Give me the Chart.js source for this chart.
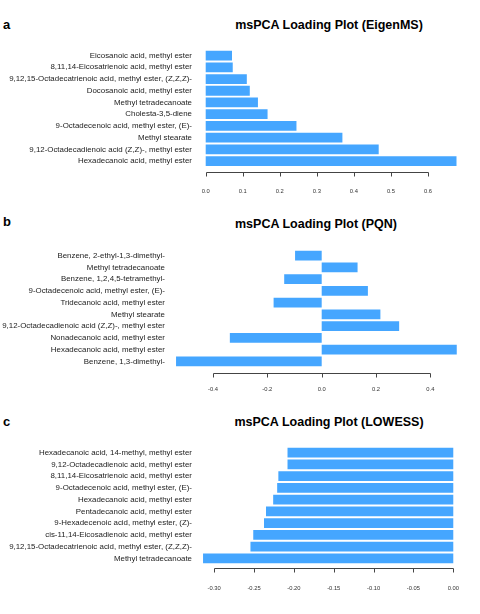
<!DOCTYPE html>
<html>
<head>
<meta charset="utf-8">
<script src="https://cdn.jsdelivr.net/npm/chart.js@4.4.1/dist/chart.umd.min.js"></script>
<style>
  body { margin: 0; background: #fff; width: 480px; height: 614px; position: relative; overflow: hidden;
         font-family: "Liberation Sans", Arial, sans-serif; color: #000; }
  .panel { position: absolute; left: 0; width: 480px; }
  .panel canvas { position: absolute; left: 0; top: 0; }
  .letter { position: absolute; left: 3px; font-weight: bold; font-size: 13px; line-height: 1; }
  .title { position: absolute; font-weight: bold; font-size: 12.5px; line-height: 1; white-space: nowrap;
           transform: translateX(-50%); }
</style>
</head>
<body>

<div class="letter" style="top:18px">a</div>
<div class="title" style="left:329px; top:18.5px">msPCA Loading Plot (EigenMS)</div>
<div class="letter" style="top:214.5px">b</div>
<div class="title" style="left:316px; top:217.7px">msPCA Loading Plot (PQN)</div>
<div class="letter" style="top:414.5px">c</div>
<div class="title" style="left:329px; top:415.5px">msPCA Loading Plot (LOWESS)</div>

<div class="panel" style="top:0; height:195px"><canvas id="chartA" width="480" height="195"></canvas></div>
<div class="panel" style="top:195px; height:200px"><canvas id="chartB" width="480" height="200"></canvas></div>
<div class="panel" style="top:395px; height:219px"><canvas id="chartC" width="480" height="219"></canvas></div>

<script>
// panel a: EigenMS (top to bottom)
const catsA = [
  'Eicosanoic acid, methyl ester',
  '8,11,14-Eicosatrienoic acid, methyl ester',
  '9,12,15-Octadecatrienoic acid, methyl ester, (Z,Z,Z)-',
  'Docosanoic acid, methyl ester',
  'Methyl tetradecanoate',
  'Cholesta-3,5-diene',
  '9-Octadecenoic acid, methyl ester, (E)-',
  'Methyl stearate',
  '9,12-Octadecadienoic acid (Z,Z)-, methyl ester',
  'Hexadecanoic acid, methyl ester'
];
const valsA = [0.071, 0.073, 0.111, 0.119, 0.141, 0.167, 0.245, 0.369, 0.467, 0.677];
const ticksA = [0, 0.1, 0.2, 0.3, 0.4, 0.5, 0.6];
const tickLabelsA = ['0.0', '0.1', '0.2', '0.3', '0.4', '0.5', '0.6'];

// panel b: PQN
const catsB = [
  'Benzene, 2-ethyl-1,3-dimethyl-',
  'Methyl tetradecanoate',
  'Benzene, 1,2,4,5-tetramethyl-',
  '9-Octadecenoic acid, methyl ester, (E)-',
  'Tridecanoic acid, methyl ester',
  'Methyl stearate',
  '9,12-Octadecadienoic acid (Z,Z)-, methyl ester',
  'Nonadecanoic acid, methyl ester',
  'Hexadecanoic acid, methyl ester',
  'Benzene, 1,3-dimethyl-'
];
const valsB = [-0.098, 0.132, -0.138, 0.170, -0.177, 0.216, 0.285, -0.338, 0.497, -0.536];
const ticksB = [-0.4, -0.2, 0, 0.2, 0.4];
const tickLabelsB = ['-0.4', '-0.2', '0.0', '0.2', '0.4'];

// panel c: LOWESS
const catsC = [
  'Hexadecanoic acid, 14-methyl, methyl ester',
  '9,12-Octadecadienoic acid, methyl ester',
  '8,11,14-Eicosatrienoic acid, methyl ester',
  '9-Octadecenoic acid, methyl ester, (E)-',
  'Hexadecanoic acid, methyl ester',
  'Pentadecanoic acid, methyl ester',
  '9-Hexadecenoic acid, methyl ester, (Z)-',
  'cis-11,14-Eicosadienoic acid, methyl ester',
  '9,12,15-Octadecatrienoic acid, methyl ester, (Z,Z,Z)-',
  'Methyl tetradecanoate'
];
const valsC = [-0.208, -0.208, -0.2195, -0.221, -0.226, -0.235, -0.2375, -0.251, -0.2545, -0.314];
const ticksC = [-0.30, -0.25, -0.20, -0.15, -0.10, -0.05, 0];
const tickLabelsC = ['-0.30', '-0.25', '-0.20', '-0.15', '-0.10', '-0.05', '0.00'];

const barColor = '#45a6ff';

// R style axis: line only between first and last tick, set a bit below the bars
const rAxis = {
  id: 'rAxis',
  afterDraw(chart, args, opts) {
    const x = chart.scales.x;
    const ctx = chart.ctx;
    const y = Math.round(chart.chartArea.bottom + opts.offset) + 0.5;
    const px = x.ticks.map(t => Math.round(x.getPixelForValue(t.value)) + 0.5);
    ctx.save();
    ctx.strokeStyle = '#444';
    ctx.lineWidth = 1;
    ctx.beginPath();
    ctx.moveTo(px[0], y);
    ctx.lineTo(px[px.length - 1], y);
    px.forEach(p => { ctx.moveTo(p, y); ctx.lineTo(p, y + 4); });
    ctx.stroke();
    ctx.restore();
  }
};

function makePanel(id, cats, vals, ticks, tickLabels, o) {
  return new Chart(document.getElementById(id), {
    type: 'bar',
    data: {
      labels: cats,
      datasets: [{
        data: vals,
        backgroundColor: barColor,
        borderWidth: 0,
        barPercentage: 0.833,
        categoryPercentage: 1.0
      }]
    },
    options: {
      indexAxis: 'y',
      responsive: false,
      animation: false,
      layout: { padding: { top: o.top, right: o.right, left: 0, bottom: 0 } },
      plugins: {
        legend: { display: false },
        tooltip: { enabled: false },
        rAxis: { offset: o.axisOffset }
      },
      scales: {
        x: {
          type: 'linear',
          min: o.min,
          max: o.max,
          grid: { display: false, drawTicks: false },
          border: { display: false },
          afterBuildTicks: s => { s.ticks = ticks.map(v => ({ value: v })); },
          afterFit: s => { s.height = o.xHeight; },
          ticks: {
            autoSkip: false,
            maxRotation: 0,
            padding: o.tickPad,
            color: '#333',
            font: { family: 'Liberation Sans', size: 5.8 },
            callback: (v, i) => tickLabels[i]
          }
        },
        y: {
          grid: { display: false, drawTicks: false },
          border: { display: false },
          afterFit: s => { s.width = o.yWidth; },
          ticks: {
            autoSkip: false,
            padding: o.labelPad,
            color: '#222',
            font: { family: 'Liberation Sans', size: 7.9 }
          }
        }
      }
    },
    plugins: [rAxis]
  });
}

makePanel('chartA', catsA, valsA, ticksA, tickLabelsA, {
  min: -0.027, max: 0.704, yWidth: 195.7, labelPad: 3.7, top: 49.7, right: 13.5,
  xHeight: 28.0, axisOffset: 4.7, tickPad: 20.5
});
makePanel('chartB', catsB, valsB, ticksB, tickLabelsB, {
  min: -0.577, max: 0.538, yWidth: 164.9, labelPad: 0, top: 54.7, right: 12.1,
  xHeight: 27.7, axisOffset: 6.0, tickPad: 19
});
makePanel('chartC', catsC, valsC, ticksC, tickLabelsC, {
  min: -0.3266, max: 0.0126, yWidth: 193.0, labelPad: 1, top: 51.7, right: 15.6,
  xHeight: 49.7, axisOffset: 4.0, tickPad: 20.5
});
</script>
</body>
</html>
